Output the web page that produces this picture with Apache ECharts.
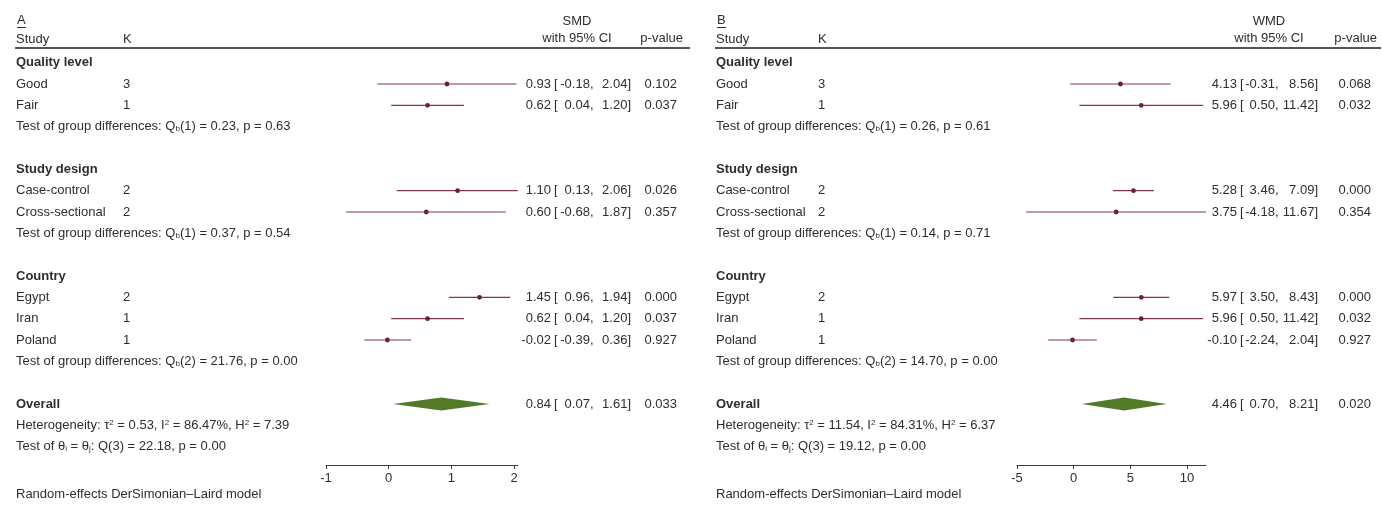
<!DOCTYPE html>
<html>
<head>
<meta charset="utf-8">
<title>Subgroup meta-analysis forest plots</title>
<script src="https://cdn.jsdelivr.net/npm/echarts@6/dist/echarts.min.js"></script>
<style>
  html, body { margin: 0; padding: 0; background: #ffffff; }
  #chart { width: 1382px; height: 506px; }
</style>
</head>
<body>
<div id="chart"></div>
<script>
// ---- Subgroups shared by both panels ----
const groupNames = ['Quality level', 'Study design', 'Country'];
const subgroupNames = ['Good', 'Fair', 'Case-control', 'Cross-sectional', 'Egypt', 'Iran', 'Poland'];
const subgroupOf = [0, 0, 1, 1, 2, 2, 2];
const subgroupK = [3, 1, 2, 2, 2, 1, 1];
const groupTestDf = [1, 1, 2];

// ---- Panel A: standardised mean difference ----
const smdEffect = [0.93, 0.62, 1.10, 0.60, 1.45, 0.62, -0.02];
const smdLower  = [-0.18, 0.04, 0.13, -0.68, 0.96, 0.04, -0.39];
const smdUpper  = [2.04, 1.20, 2.06, 1.87, 1.94, 1.20, 0.36];
const smdP      = [0.102, 0.037, 0.026, 0.357, 0.000, 0.037, 0.927];
const smdQb     = [0.23, 0.37, 21.76];
const smdQbP    = [0.63, 0.54, 0.00];
const smdOverall = [0.84, 0.07, 1.61];   // estimate, lower, upper
const smdOverallP = 0.033;
const smdHeterogeneity = [0.53, 86.47, 7.39];   // tau^2, I^2 (%), H^2
const smdHomogeneity = [22.18, 3, 0.00];        // Q, df, p
const smdTicks = [-1, 0, 1, 2];

// ---- Panel B: weighted mean difference ----
const wmdEffect = [4.13, 5.96, 5.28, 3.75, 5.97, 5.96, -0.10];
const wmdLower  = [-0.31, 0.50, 3.46, -4.18, 3.50, 0.50, -2.24];
const wmdUpper  = [8.56, 11.42, 7.09, 11.67, 8.43, 11.42, 2.04];
const wmdP      = [0.068, 0.032, 0.000, 0.354, 0.000, 0.032, 0.927];
const wmdQb     = [0.26, 0.14, 14.70];
const wmdQbP    = [0.61, 0.71, 0.00];
const wmdOverall = [4.46, 0.70, 8.21];
const wmdOverallP = 0.020;
const wmdHeterogeneity = [11.54, 84.31, 6.37];
const wmdHomogeneity = [19.12, 3, 0.00];
const wmdTicks = [-5, 0, 5, 10];

// ---- Styling ----
const FONT = '"Liberation Sans", Arial, Helvetica, sans-serif';
const FS = 13;
const TEXT = '#2e2e2e';
const CI_LINE = '#86364c';
const DOT = '#6a1e38';
const DIAMOND = '#527a28';
const ROW_PX = 21.333;
const GRID_TOP = 52;
const GRID_BOTTOM_Y = 465;

const panels = [
  {
    letter: 'A', measure: 'SMD',
    effect: smdEffect, lower: smdLower, upper: smdUpper, p: smdP,
    qb: smdQb, qbP: smdQbP, overall: smdOverall, overallP: smdOverallP,
    het: smdHeterogeneity, hom: smdHomogeneity, ticks: smdTicks,
    pos: { study: 16, k: 123, gridLeft: 326, unit: 62.67, eff: 551, brk: 554, lo: 593.5, hi: 631, p: 677,
           head: 577, pHead: 683, ruleEnd: 690 }
  },
  {
    letter: 'B', measure: 'WMD',
    effect: wmdEffect, lower: wmdLower, upper: wmdUpper, p: wmdP,
    qb: wmdQb, qbP: wmdQbP, overall: wmdOverall, overallP: wmdOverallP,
    het: wmdHeterogeneity, hom: wmdHomogeneity, ticks: wmdTicks,
    pos: { study: 716, k: 818, gridLeft: 1017, unit: 11.333, eff: 1237, brk: 1240, lo: 1278.5, hi: 1318, p: 1371,
           head: 1269, pHead: 1377, ruleEnd: 1381 }
  }
];

// Table rows of one panel: group heading, subgroups, group test, spacer ... overall block
function buildRows(pn) {
  const rows = [];
  groupNames.forEach(function (g, gi) {
    rows.push({ type: 'group', label: g });
    subgroupOf.forEach(function (owner, si) {
      if (owner !== gi) return;
      rows.push({ type: 'study', label: subgroupNames[si], k: subgroupK[si],
                  eff: pn.effect[si], lo: pn.lower[si], hi: pn.upper[si], p: pn.p[si] });
    });
    rows.push({ type: 'test', df: groupTestDf[gi], q: pn.qb[gi], p: pn.qbP[gi] });
    rows.push({ type: 'blank' });
  });
  rows.push({ type: 'overall', label: 'Overall', eff: pn.overall[0], lo: pn.overall[1], hi: pn.overall[2], p: pn.overallP });
  rows.push({ type: 'het', tau2: pn.het[0], i2: pn.het[1], h2: pn.het[2] });
  rows.push({ type: 'hom', q: pn.hom[0], df: pn.hom[1], p: pn.hom[2] });
  return rows;
}

const richStyles = {
  sub: { fontSize: 8, fontFamily: FONT, fill: TEXT, verticalAlign: 'bottom' },
  sup: { fontSize: 8, fontFamily: FONT, fill: TEXT, verticalAlign: 'top' }
};

function textEl(x, y, text, extra) {
  return {
    type: 'text', x: x, y: y, silent: true,
    style: Object.assign({
      text: text, fill: TEXT, fontSize: FS, fontFamily: FONT,
      align: 'left', verticalAlign: 'middle'
    }, extra || {})
  };
}

function ciTexts(P, y, row) {
  return [
    textEl(P.eff, y, row.eff.toFixed(2), { align: 'right' }),
    textEl(P.brk, y, '['),
    textEl(P.lo, y, row.lo.toFixed(2) + ',', { align: 'right' }),
    textEl(P.hi, y, row.hi.toFixed(2) + ']', { align: 'right' }),
    textEl(P.p, y, row.p.toFixed(3), { align: 'right' })
  ];
}

function makeRenderer(pn, rows, xMin) {
  const P = pn.pos;
  return function (params, api) {
    const i = api.value(1);
    const row = rows[i];
    const y = api.coord([xMin, i])[1];
    const kids = [];
    if (row.type === 'group') {
      kids.push(textEl(P.study, y, row.label, { fontWeight: 'bold' }));
    } else if (row.type === 'study') {
      const xl = api.coord([row.lo, i])[0];
      const xh = api.coord([row.hi, i])[0];
      const xe = api.coord([row.eff, i])[0];
      kids.push(textEl(P.study, y, row.label));
      kids.push(textEl(P.k, y, String(row.k)));
      kids.push({ type: 'line', shape: { x1: xl, y1: y, x2: xh, y2: y },
                  style: { stroke: CI_LINE, lineWidth: 1.2 } });
      kids.push({ type: 'circle', shape: { cx: xe, cy: y, r: 2.4 }, style: { fill: DOT } });
      kids.push.apply(kids, ciTexts(P, y, row));
    } else if (row.type === 'test') {
      kids.push(textEl(P.study, y,
        'Test of group differences: Q{sub|b}(' + row.df + ') = ' + row.q.toFixed(2) + ', p = ' + row.p.toFixed(2),
        { rich: richStyles }));
    } else if (row.type === 'overall') {
      const xl = api.coord([row.lo, i])[0];
      const xh = api.coord([row.hi, i])[0];
      const xe = api.coord([row.eff, i])[0];
      kids.push(textEl(P.study, y, row.label, { fontWeight: 'bold' }));
      kids.push({ type: 'polygon',
                  shape: { points: [[xl, y], [xe, y - 6.5], [xh, y], [xe, y + 6.5]] },
                  style: { fill: DIAMOND } });
      kids.push.apply(kids, ciTexts(P, y, row));
    } else if (row.type === 'het') {
      kids.push(textEl(P.study, y,
        'Heterogeneity: \u03c4{sup|2} = ' + row.tau2.toFixed(2) + ', I{sup|2} = ' + row.i2.toFixed(2) +
        '%, H{sup|2} = ' + row.h2.toFixed(2), { rich: richStyles }));
    } else if (row.type === 'hom') {
      kids.push(textEl(P.study, y,
        'Test of \u03b8{sub|i} = \u03b8{sub|j}: Q(' + row.df + ') = ' + row.q.toFixed(2) + ', p = ' + row.p.toFixed(2),
        { rich: richStyles }));
    }
    return { type: 'group', children: kids };
  };
}

const grids = [], xAxes = [], yAxes = [], series = [], graphics = [];
panels.forEach(function (pn, idx) {
  const rows = buildRows(pn);
  const P = pn.pos;
  const allLo = pn.lower.concat([pn.overall[1]]);
  const allHi = pn.upper.concat([pn.overall[2]]);
  const xMin = Math.min(pn.ticks[0], Math.min.apply(null, allLo));
  const xMax = Math.max(pn.ticks[pn.ticks.length - 1], Math.max.apply(null, allHi));
  const rowMax = -0.5 + (GRID_BOTTOM_Y - GRID_TOP) / ROW_PX;

  grids.push({ left: P.gridLeft, width: (xMax - xMin) * P.unit, top: GRID_TOP,
               height: GRID_BOTTOM_Y - GRID_TOP, containLabel: false });
  xAxes.push({
    type: 'value', gridIndex: idx, min: xMin, max: xMax, position: 'bottom',
    axisLine: { show: true, onZero: false, lineStyle: { color: '#3a3a3a', width: 1 } },
    axisTick: { show: true, inside: false, length: 4, lineStyle: { color: '#3a3a3a' }, customValues: pn.ticks },
    axisLabel: { color: TEXT, fontSize: FS, fontFamily: FONT, margin: 7, customValues: pn.ticks },
    splitLine: { show: false }
  });
  yAxes.push({ type: 'value', gridIndex: idx, inverse: true, min: -0.5, max: rowMax, show: false });
  series.push({
    type: 'custom', xAxisIndex: idx, yAxisIndex: idx, clip: false, silent: true,
    data: rows.map(function (r, i) { return [xMin, i]; }),
    encode: { x: 0, y: 1 },
    renderItem: makeRenderer(pn, rows, xMin)
  });

  // Column headings, heading rule and model note
  const headStyle = { fill: TEXT, fontSize: FS, fontFamily: FONT, verticalAlign: 'middle' };
  graphics.push(
    { type: 'text', x: P.study + 1, y: 20, silent: true,
      style: Object.assign({ text: pn.letter }, headStyle) },
    { type: 'line', silent: true, shape: { x1: P.study + 1, y1: 27.5, x2: P.study + 10, y2: 27.5 },
      style: { stroke: TEXT, lineWidth: 1 } },
    { type: 'text', x: P.study, y: 39, silent: true,
      style: Object.assign({ text: 'Study' }, headStyle) },
    { type: 'text', x: P.k, y: 39, silent: true,
      style: Object.assign({ text: 'K' }, headStyle) },
    { type: 'text', x: P.head, y: 21, silent: true,
      style: Object.assign({ text: pn.measure, align: 'center' }, headStyle) },
    { type: 'text', x: P.head, y: 38, silent: true,
      style: Object.assign({ text: 'with 95% CI', align: 'center' }, headStyle) },
    { type: 'text', x: P.pHead, y: 38, silent: true,
      style: Object.assign({ text: 'p-value', align: 'right' }, headStyle) },
    { type: 'line', silent: true, shape: { x1: P.study - 1, y1: 48, x2: P.ruleEnd, y2: 48 },
      style: { stroke: '#555555', lineWidth: 2 } },
    { type: 'text', x: P.study, y: 494, silent: true,
      style: Object.assign({ text: 'Random-effects DerSimonian\u2013Laird model' }, headStyle) }
  );
});

const chart = echarts.init(document.getElementById('chart'), null, { renderer: 'canvas' });
chart.setOption({
  backgroundColor: '#ffffff',
  animation: false,
  grid: grids,
  xAxis: xAxes,
  yAxis: yAxes,
  series: series,
  graphic: graphics
});
</script>
</body>
</html>
